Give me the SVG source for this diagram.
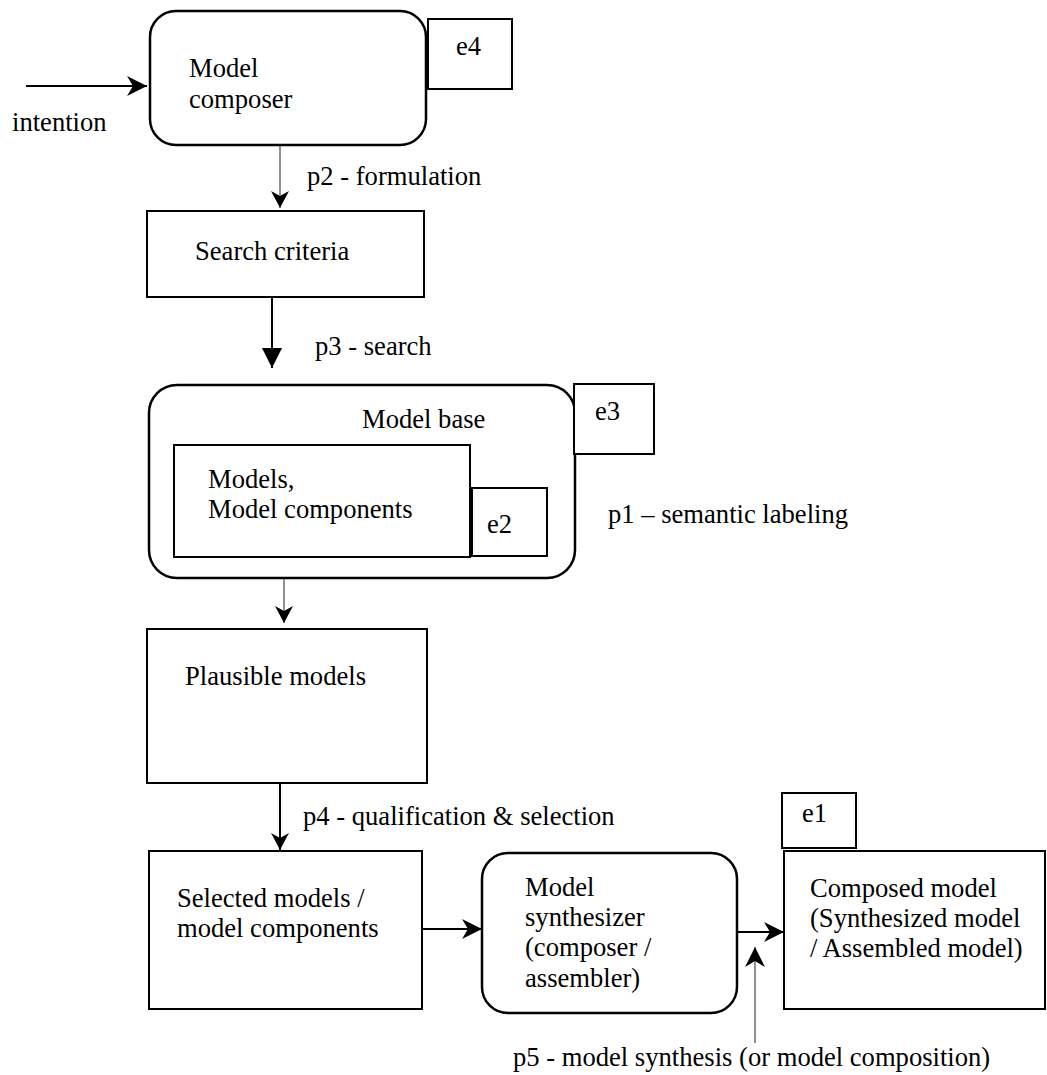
<svg xmlns="http://www.w3.org/2000/svg" width="1047" height="1075" viewBox="0 0 1047 1075">
<style>
  text { font-family: "Liberation Serif", "Times New Roman", serif; font-size: 26.6px; fill: #000; }
  .box { fill: #fff; stroke: #000; stroke-width: 2; }
  .rbox { fill: #fff; stroke: #000; stroke-width: 2.5; }
  .tag { fill: #fff; stroke: #000; stroke-width: 2; }
  .edge { fill: none; stroke: #000; stroke-width: 2; }
  .thin { fill: none; stroke: #555; stroke-width: 1.3; }
</style>
<defs>
  <marker id="arrow" markerUnits="userSpaceOnUse" markerWidth="20" markerHeight="20" refX="20" refY="10" orient="auto" viewBox="0 0 20 20">
    <path d="M0,0 L20,10 L0,20 L6,10 Z" fill="#000"/>
  </marker>
  <marker id="arrowSmall" markerUnits="userSpaceOnUse" markerWidth="17" markerHeight="18" refX="17" refY="9" orient="auto" viewBox="0 0 17 18">
    <path d="M0,0 L17,9 L0,18 L5,9 Z" fill="#000"/>
  </marker>
  <marker id="tri" markerUnits="userSpaceOnUse" markerWidth="20" markerHeight="20" refX="20" refY="10" orient="auto" viewBox="0 0 20 20">
    <path d="M0,0 L20,10 L0,20 Z" fill="#000"/>
  </marker>
</defs>

<g id="connectors">
  <line class="edge" x1="26" y1="86" x2="147" y2="86" marker-end="url(#arrow)"/>
  <line class="thin" x1="280" y1="142" x2="280" y2="208" marker-end="url(#arrowSmall)"/>
  <line class="edge" x1="272" y1="297" x2="272" y2="368" marker-end="url(#tri)"/>
  <line class="thin" x1="284" y1="578" x2="284" y2="623" marker-end="url(#arrowSmall)"/>
  <line class="edge" x1="280" y1="783" x2="280" y2="850" marker-end="url(#arrowSmall)"/>
  <line class="edge" x1="422" y1="929" x2="482" y2="929" marker-end="url(#arrow)"/>
  <line class="edge" x1="737" y1="932" x2="784" y2="932" marker-end="url(#arrow)"/>
  <line class="thin" x1="755" y1="1043" x2="755" y2="947" marker-end="url(#arrow)"/>
  <text x="12" y="131">intention</text>
  <text x="307" y="185">p2 - formulation</text>
  <text x="315" y="355">p3 - search</text>
  <text x="608" y="523">p1 – semantic labeling</text>
  <text x="303" y="825">p4 - qualification &amp; selection</text>
  <text x="513" y="1066">p5 - model synthesis (or model composition)</text>
</g>

<g id="model-composer">
  <rect class="rbox" x="150" y="11" width="276" height="134" rx="26"/>
  <text x="189" y="77">Model</text>
  <text x="189" y="108">composer</text>
</g>
<g id="e4">
  <rect class="tag" x="428" y="19" width="84" height="70"/>
  <text x="456" y="55">e4</text>
</g>

<g id="search-criteria">
  <rect class="box" x="147" y="211" width="277" height="86"/>
  <text x="195" y="260">Search criteria</text>
</g>

<g id="model-base">
  <rect class="rbox" x="149" y="385" width="426" height="193" rx="28"/>
  <text x="362" y="428">Model base</text>
</g>
<g id="e3">
  <rect class="tag" x="574" y="384" width="80" height="70"/>
  <text x="595" y="420">e3</text>
</g>
<g id="models">
  <rect class="box" x="174" y="445" width="296" height="112"/>
  <text x="208" y="488">Models,</text>
  <text x="208" y="518">Model components</text>
</g>
<g id="e2">
  <rect class="tag" x="472" y="488" width="75" height="68"/>
  <text x="487" y="533">e2</text>
</g>

<g id="plausible-models">
  <rect class="box" x="147" y="629" width="280" height="154"/>
  <text x="185" y="685">Plausible models</text>
</g>

<g id="selected-models">
  <rect class="box" x="149" y="851" width="273" height="158"/>
  <text x="177" y="907">Selected models /</text>
  <text x="177" y="937">model components</text>
</g>

<g id="model-synthesizer">
  <rect class="rbox" x="482" y="853" width="255" height="160" rx="26"/>
  <text x="525" y="896">Model</text>
  <text x="525" y="926">synthesizer</text>
  <text x="525" y="956">(composer /</text>
  <text x="525" y="987">assembler)</text>
</g>

<g id="e1">
  <rect class="tag" x="782" y="793" width="74" height="55"/>
  <text x="802" y="822">e1</text>
</g>
<g id="composed-model">
  <rect class="box" x="784" y="851" width="261" height="158"/>
  <text x="810" y="897">Composed model</text>
  <text x="810" y="927">(Synthesized model</text>
  <text x="810" y="957">/ Assembled model)</text>
</g>
</svg>
